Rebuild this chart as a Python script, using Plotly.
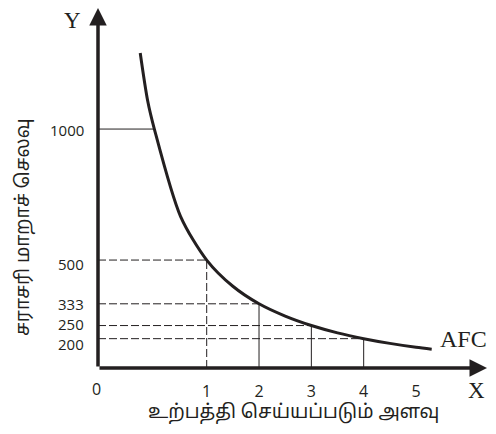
import plotly.graph_objects as go

# ---- data ----
quantity = [0, 1, 2, 3, 4]                 # output levels with guide lines
afc_values = [1000, 500, 333, 250, 200]    # average fixed cost at those levels
y_tick_labels = ["1000", "500", "333", "250", "200"]
x_tick_vals = [1, 2, 3, 4, 5]
x_tick_labels = ["1", "2", "3", "4", "5"]

curve_q = [-0.27, -0.13, 0, 0.5, 1, 1.5, 2, 2.5, 3, 3.5, 4, 4.5, 5, 5.3]
curve_afc = [1290, 1110, 1000, 667, 500, 400, 333, 286, 250, 222, 200, 182, 167, 160]

# ---- axis frame (diagram scale) ----
X0, X1 = -1.077, 6.414
Y0, Y1 = 88, 1462
X_TIP = 6.357

INK = "#231f20"
fig = go.Figure()

# AFC curve
fig.add_trace(go.Scatter(x=curve_q, y=curve_afc, mode="lines",
                         line=dict(color=INK, width=3, shape="spline", smoothing=0.8),
                         hoverinfo="skip", showlegend=False))

# guide lines
h_dash = ["solid", "8px,3px", "8px,3px", "8px,3px", "8px,3px"]
v_dash = [None, "8px,3px", "solid", "solid", "solid"]
for q, v, hd, vd in zip(quantity, afc_values, h_dash, v_dash):
    fig.add_trace(go.Scatter(x=[X0, q], y=[v, v], mode="lines",
                             line=dict(color=INK, width=1, dash=hd),
                             hoverinfo="skip", showlegend=False))
    if vd is not None:
        fig.add_trace(go.Scatter(x=[q, q], y=[Y0, v], mode="lines",
                                 line=dict(color=INK, width=1, dash=vd),
                                 hoverinfo="skip", showlegend=False))

# axes with arrowheads
arrow_common = dict(showarrow=True, arrowhead=2, arrowsize=1.0, arrowwidth=3.5,
                    arrowcolor=INK, axref="x", ayref="y", xref="x", yref="y", text="")
fig.add_annotation(x=X_TIP, y=Y0, ax=X0, ay=Y0, **arrow_common)
fig.add_annotation(x=X0, y=Y1, ax=X0, ay=Y0, **arrow_common)

serif = "Liberation Serif, Times New Roman, serif"
sans = "Open Sans, Noto Sans, sans-serif"
tamil = "Noto Sans Tamil, Noto Sans, Lohit Tamil, sans-serif"

# y value labels (placed beside the axis, nudged as in the drawing)
label_nudge = [-1, -4, 0, 2, -5]
for v, t, dy in zip(afc_values, y_tick_labels, label_nudge):
    fig.add_annotation(x=X0, y=v, xref="x", yref="y", text=t, showarrow=False,
                       xanchor="right", yanchor="middle", xshift=-13, yshift=dy,
                       borderpad=0,
                       font=dict(family=sans, size=15, color=INK))

# letters and labels
fig.add_annotation(x=X0, y=Y1, xref="x", yref="y", text="Y", showarrow=False,
                   xshift=-26, yshift=-12, font=dict(family=serif, size=23, color=INK))
fig.add_annotation(x=X_TIP, y=Y0, xref="x", yref="y", text="X", showarrow=False,
                   xshift=-11, yshift=-22, font=dict(family=serif, size=23, color=INK))
fig.add_annotation(x=curve_q[-1], y=curve_afc[-1], xref="x", yref="y", text="AFC",
                   showarrow=False, xanchor="left", xshift=6, yshift=10,
                   font=dict(family=serif, size=24, color=INK))
fig.add_annotation(x=X0, y=Y0, xref="x", yref="y", text="0", showarrow=False,
                   xshift=-2, yshift=-21, font=dict(family=sans, size=16, color=INK))

# page is shown with an 8px body margin: figure sized to the visible area
OFF = 8
W, H = 496 - OFF, 434 - OFF
L, R, T, B = 98 - OFF, 6, 0, 66

pw, ph = W - L - R, H - T - B

def px_to_paper(xp, yp):
    return (xp - OFF - L) / pw, (H - B - (yp - OFF)) / ph

tx, ty = px_to_paper(24, 227)
fig.add_annotation(x=tx, y=ty, xref="paper", yref="paper", text="சராசரி மாறாச் செலவு",
                   showarrow=False, textangle=-90, xanchor="center", yanchor="middle",
                   font=dict(family=tamil, size=19, color=INK))
tx, ty = px_to_paper(293, 413)
fig.add_annotation(x=tx, y=ty, xref="paper", yref="paper", text="உற்பத்தி செய்யப்படும் அளவு",
                   showarrow=False, xanchor="center", yanchor="middle",
                   font=dict(family=tamil, size=19, color=INK))

fig.update_xaxes(range=[X0, X1], showgrid=False, zeroline=False, showline=False,
                 tickvals=x_tick_vals, ticktext=x_tick_labels,
                 ticks="outside", ticklen=9, tickcolor="rgba(0,0,0,0)",
                 tickfont=dict(family=sans, size=16, color=INK))
fig.update_yaxes(range=[Y0, Y1], showgrid=False, zeroline=False, showline=False,
                 showticklabels=False)

fig.update_layout(width=W, height=H, margin=dict(l=L, r=R, t=T, b=B),
                  paper_bgcolor="white", plot_bgcolor="white")

fig.write_html("out.html")
